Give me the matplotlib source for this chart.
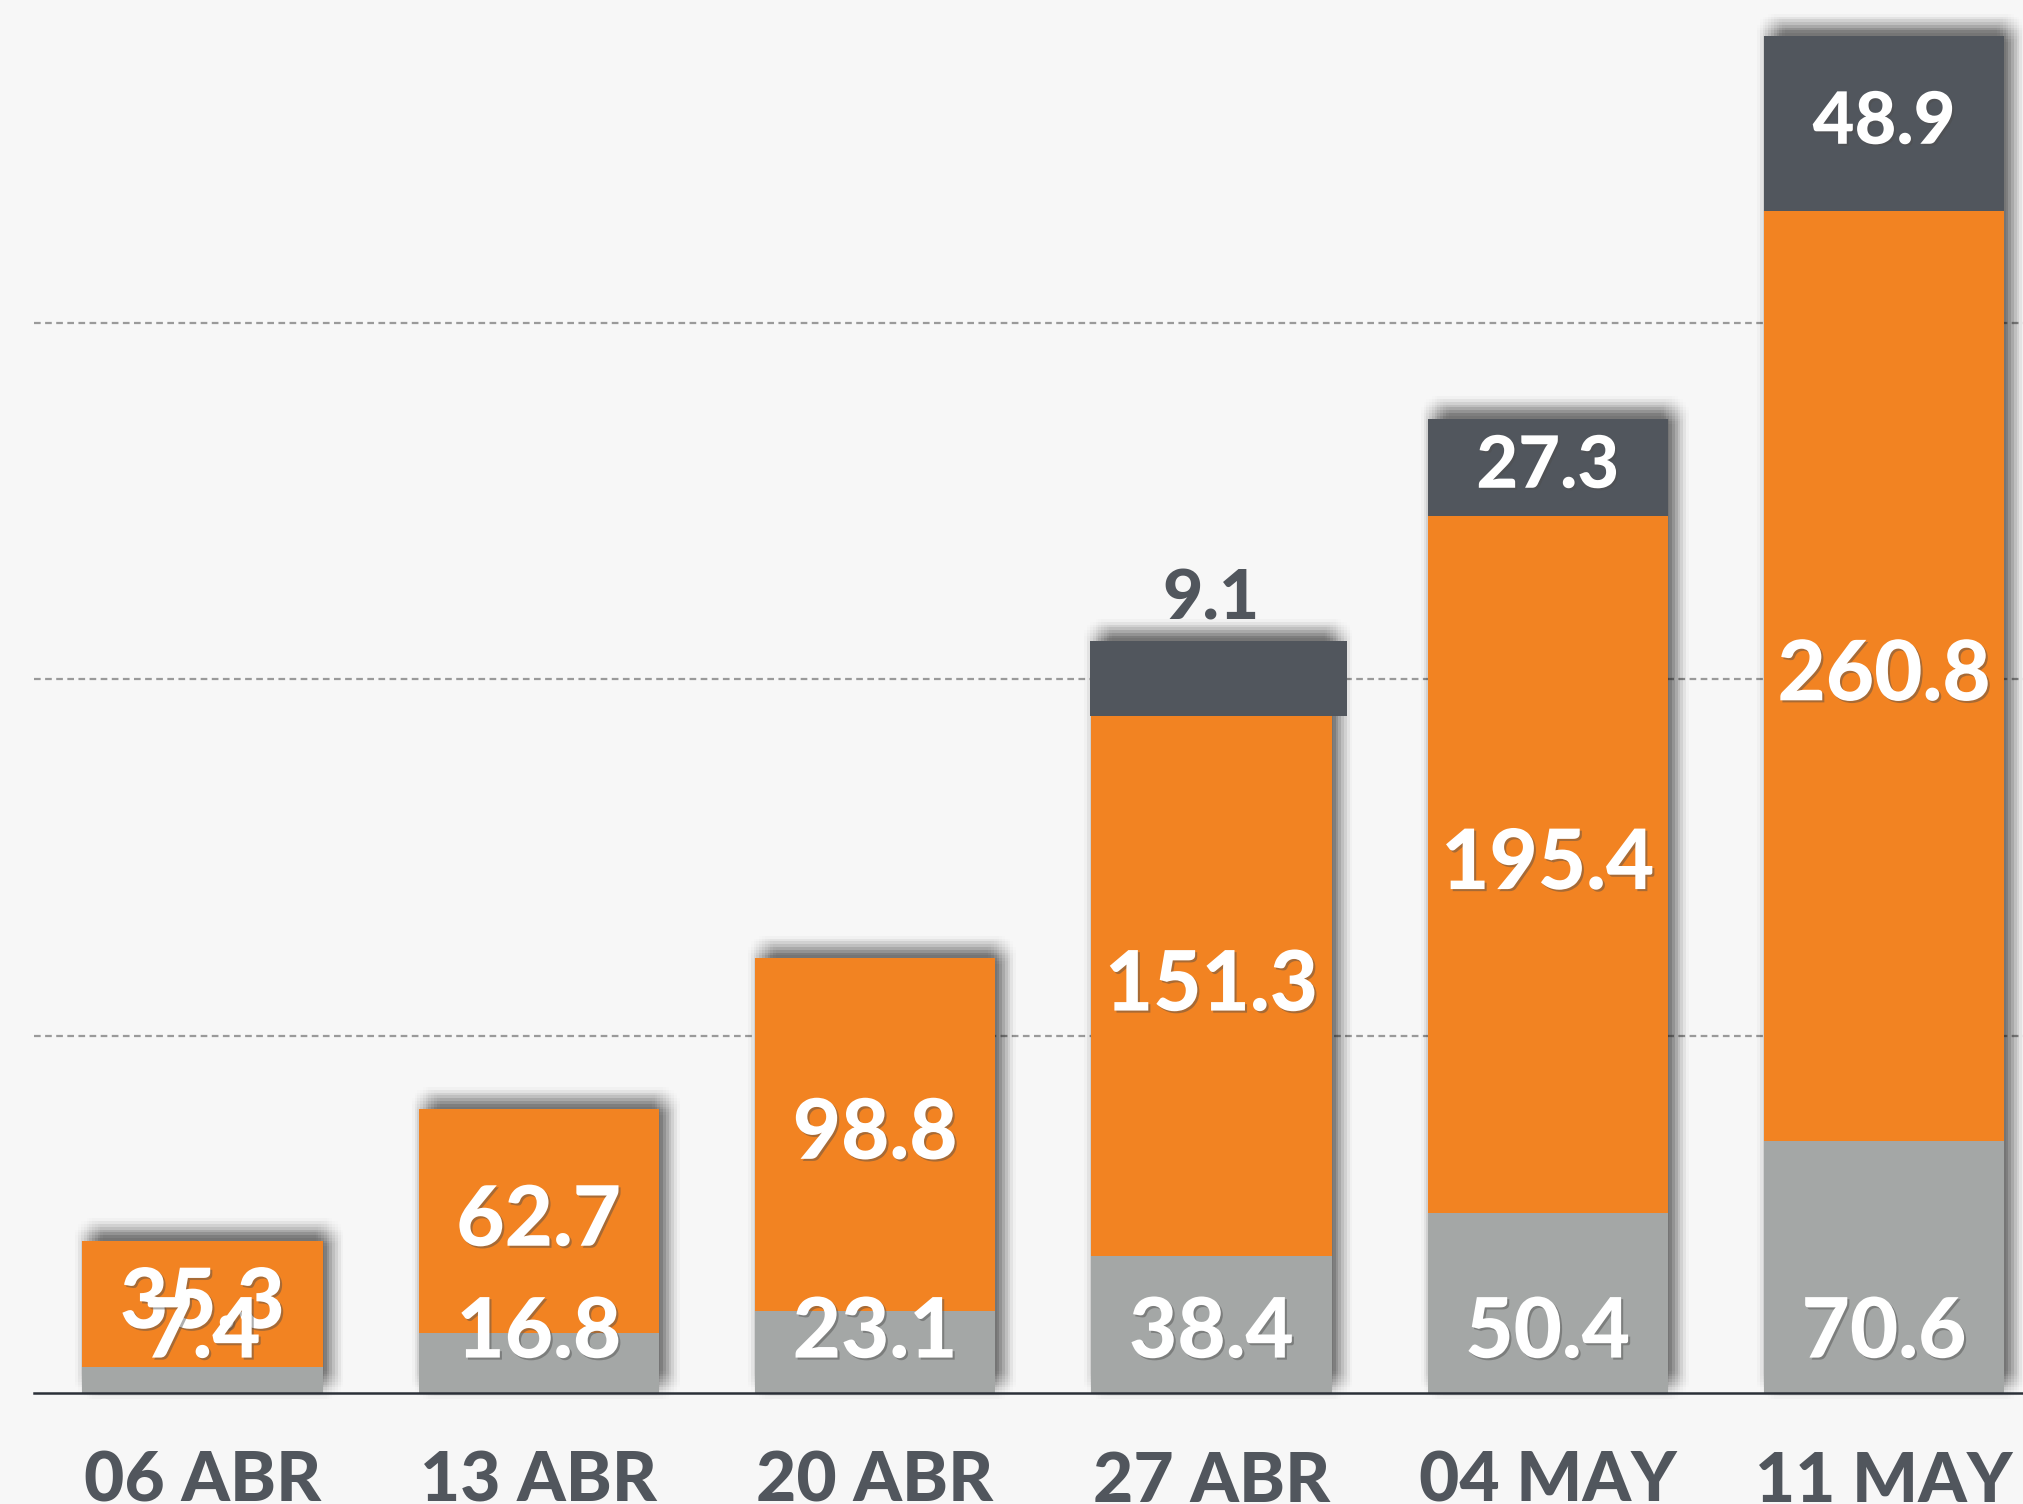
import matplotlib.pyplot as plt
import matplotlib.patheffects as pe

# Data
dates = ['06 ABR', '13 ABR', '20 ABR', '27 ABR', '04 MAY', '11 MAY']
gray_vals = [7.4, 16.8, 23.1, 38.4, 50.4, 70.6]
orange_vals = [35.3, 62.7, 98.8, 151.3, 195.4, 260.8]
dark_vals = [0, 0, 0, 9.1, 27.3, 48.9]

# Colours
BG = '#F7F7F7'
ORANGE = '#F28322'
GRAY = '#A4A7A6'
DARK = '#51565D'

plt.rcParams['font.family'] = ['Lato', 'DejaVu Sans']

fig = plt.figure(figsize=(20.23, 15.04), dpi=100)
fig.patch.set_facecolor(BG)
ax = fig.add_axes([0, 0, 1, 1])
ax.set_facecolor(BG)
ax.set_xlim(-0.602, 5.413)
ax.set_ylim(-31.1, 390.4)
ax.axis('off')

x = list(range(len(dates)))
w = 0.714
min_dark = 21  # small dark segments are drawn as a taller box

# Gridlines and baseline
for g in [100, 200, 300]:
    ax.plot([-0.5, 5.5], [g, g], color='#9A9A9A', lw=1.6, ls=(0, (3, 2)), zorder=0)
ax.plot([-0.5, 5.5], [0, 0], color='#2B3038', lw=1.8, zorder=3)

# soft drop shadow: many faint offset copies, shifted up and right
shadow = [pe.SimplePatchShadow(offset=(dx, dy), shadow_rgbFace='black', alpha=0.009)
          for dx in range(-5, 16, 2) for dy in range(-4, 17, 2)
          if (dx - 5) ** 2 + (dy - 6) ** 2 <= 110]
for i in x:
    d = dark_vals[i]
    top = gray_vals[i] + orange_vals[i] + (max(d, min_dark) if d else 0)
    b = ax.bar(i, top, width=w, color='none', zorder=1)
    b[0].set_path_effects(shadow)

ax.bar(x, gray_vals, width=w, color=GRAY, zorder=2)
ax.bar(x, orange_vals, width=w, bottom=gray_vals, color=ORANGE, zorder=2)


def label(xp, yp, s, color='white', size=60):
    t = ax.text(xp, yp, s, ha='center', va='center', fontsize=size, fontweight='black',
                color=color, zorder=5)
    if color == 'white':
        t.set_path_effects([pe.SimplePatchShadow(offset=(1.5, -1.5), alpha=0.45), pe.Normal()])
    return t


for i in x:
    g, o, d = gray_vals[i], orange_vals[i], dark_vals[i]
    if d:
        if d < 15:
            ax.bar(i + 0.02, max(d, min_dark), width=w + 0.05, bottom=g + o,
                   color=DARK, zorder=2)
            label(i, g + o + max(d, min_dark) + 11.5, f'{d:.1f}', color=DARK, size=50)
        else:
            ax.bar(i, d, width=w, bottom=g + o, color=DARK, zorder=2)
            label(i, g + o + d / 2, f'{d:.1f}', size=52)
    label(i, g + o / 2, f'{o:.1f}')
    label(i, 16.8, f'{g:.1f}')
    ax.text(i, -25.0, dates[i], ha='center', va='center', fontsize=50,
            fontweight='black', color=DARK)

fig.savefig('out.png', dpi=100, facecolor=BG)
